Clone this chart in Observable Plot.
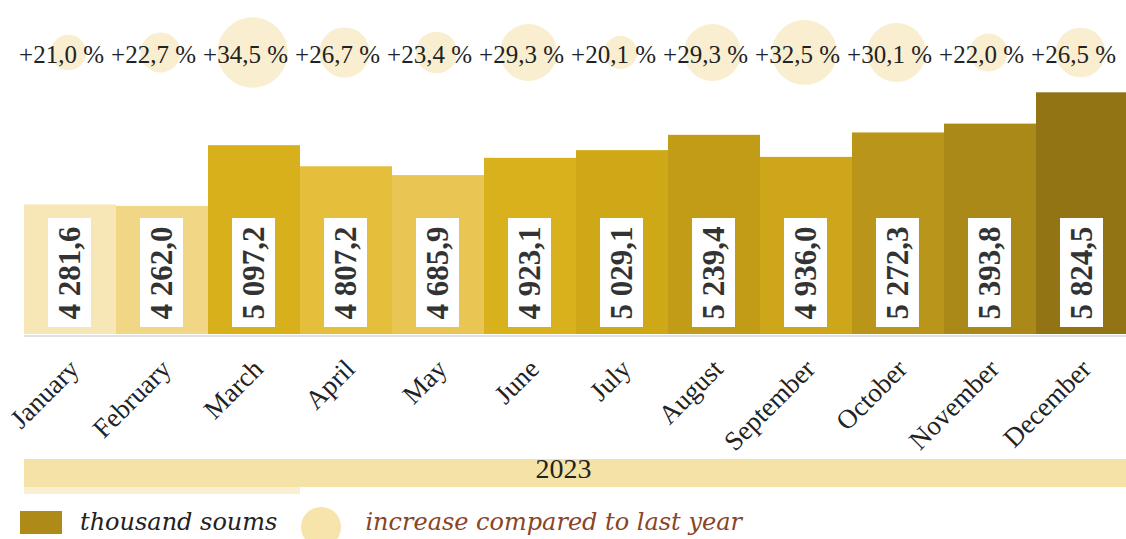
<!DOCTYPE html>
<html><head><meta charset="utf-8">
<script src="https://cdn.jsdelivr.net/npm/d3@7"></script>
<script src="https://cdn.jsdelivr.net/npm/@observablehq/plot@0.6"></script>
<style>
body{margin:0;background:#fff;}
#chart svg{display:block;}
.legend{height:34px;display:flex;align-items:center;font-family:"DejaVu Serif",serif;font-style:italic;font-size:24px;white-space:nowrap;overflow:hidden;}
.sw{display:inline-block;flex:none;}
</style></head><body>
<div id="chart"></div>
<div class="legend">
  <span class="sw" style="width:42px;height:23px;background:#ae8b18;margin-left:20px"></span>
  <span style="margin-left:18px;color:#222">thousand soums</span>
  <span class="sw" style="width:40px;height:40px;border-radius:50%;background:#f6e4ab;margin-left:24px;margin-top:10px"></span>
  <span style="margin-left:24px;color:#8a4526">increase compared to last year</span>
</div>
<script>
const months = ["January","February","March","April","May","June","July","August","September","October","November","December"];
const values = [4281.6, 4262.0, 5097.2, 4807.2, 4685.9, 4923.1, 5029.1, 5239.4, 4936.0, 5272.3, 5393.8, 5824.5];
const growth = [21.0, 22.7, 34.5, 26.7, 23.4, 29.3, 20.1, 29.3, 32.5, 30.1, 22.0, 26.5];
const year = "2023";
const barColors = ["#f7e7b6","#f0d685","#d8b01c","#e5bf3c","#e9c653","#d8b11d","#cfa818","#c29c17","#cda719","#b9951a","#ab8919","#937415"];
const yFloor = 2500;

const fmtValue = v => {
  const [i, d] = v.toFixed(1).split(".");
  return i.replace(/\B(?=(\d{3})+(?!\d))/g, " ") + "," + d;
};
const fmtPct = p => "+" + p.toFixed(1).replace(".", ",") + " %";
const data = months.map((m, i) => ({month: m, value: values[i], growth: growth[i]}));

const W = 1126, H = 505, base = 334;
const chart = Plot.plot({
  width: W, height: H,
  marginLeft: 24, marginRight: 0, marginTop: 0, marginBottom: H - base,
  x: {domain: months, range: [24, 1128], padding: 0, axis: null},
  y: {domain: [yFloor, d3.max(values)], range: [base, 92.3], axis: null},
  color: {domain: months, range: barColors},
  r: {type: "linear", domain: [20, 35], range: [16.5, 35.8]},
  style: {fontFamily: "'Liberation Serif', 'Times New Roman', serif", background: "white", overflow: "visible"},
  marks: [
    Plot.dot(data, {x: "month", r: "growth", fill: "#f9eed0", frameAnchor: "top", dy: 52, dx: -2}),
    Plot.text(data, {x: "month", text: d => fmtPct(d.growth), frameAnchor: "top", lineAnchor: "middle", dy: 54, dx: -9, fontSize: 25, fill: "#222"}),
    Plot.barY(data, {x: "month", y1: yFloor, y2: "value", fill: "month"}),
    Plot.ruleY([yFloor], {stroke: "#e0e0e0", strokeWidth: 2, dy: 1.5}),
    Plot.barY(data, {x: "month", y1: yFloor, y2: yFloor, insetLeft: 24, insetRight: 25, insetTop: -116, insetBottom: 7, fill: "white"}),
    Plot.text(data, {x: "month", text: d => fmtValue(d.value), frameAnchor: "bottom", lineAnchor: "middle", dy: -61.5, dx: -0.5, rotate: -90, fontSize: 31, fontWeight: "bold", fill: "#333"}),
    Plot.text(data, {x: "month", text: "month", frameAnchor: "bottom", lineAnchor: "middle", dy: 30, dx: 4, rotate: -45, textAnchor: "end", fontSize: 27, fill: "#222"}),
    Plot.barY(months.slice(0, 3), {x: d => d, y1: yFloor, y2: yFloor, insetTop: 153, insetBottom: -160, fill: "#f9efd2"}),
    Plot.barY(months, {x: d => d, y1: yFloor, y2: yFloor, insetTop: 125, insetBottom: -153, fill: "#f5e2a7"}),
    Plot.text([year], {text: d => d, frameAnchor: "bottom", lineAnchor: "middle", dy: 135, dx: -12, fontSize: 28, fill: "#222"})
  ]
});
document.getElementById("chart").append(chart);
</script>
</body></html>
